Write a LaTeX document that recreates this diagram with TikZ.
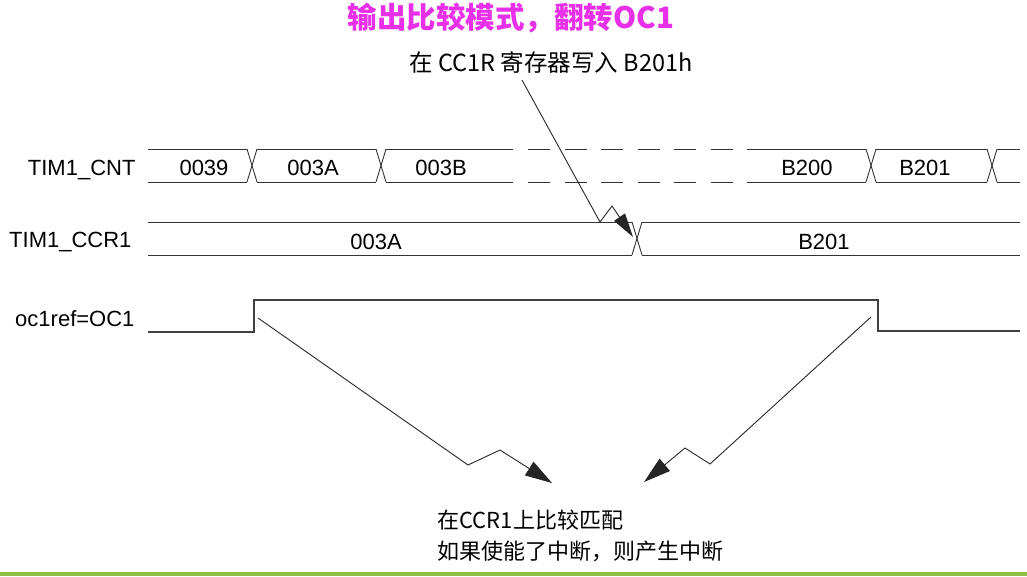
\documentclass[tikz,border=0pt]{standalone}
\usepackage{fontspec}
\setmainfont{Liberation Sans}
\newfontfamily\cjk{Noto Sans CJK SC}
\usetikzlibrary{arrows.meta,positioning}
\definecolor{titlemag}{RGB}{232,48,232}
\definecolor{bargreen}{RGB}{141,190,72}

\tikzstyle{sig} = [anchor=east, font=\fontsize{22}{26}\selectfont]
\tikzstyle{val} = [font=\fontsize{22}{26}\selectfont]
\tikzstyle{bus} = [draw=black!80, line width=0.9pt]
\tikzstyle{level} = [draw=black!75, line width=1.8pt]
\tikzstyle{note} = [font=\cjk\fontsize{22}{26}\selectfont]
\tikzstyle{hit} = [draw=black!85, line width=0.9pt, -{Triangle[length=27pt,width=16pt]}]

\begin{document}
\begin{tikzpicture}[x=1pt, y=-1pt, >=stealth]
  \useasboundingbox (0,0) rectangle (1027,576);
  \def\cntt{149}
  \def\cntb{182}
  \def\ccrt{222}
  \def\ccrb{255}
  \def\hw{5}

  % signal names
  \node[sig] (cnt) at (139,170) {TIM1\_CNT};
  \node[sig] (ccr) at (135,242) {TIM1\_CCR1};
  \node[sig] (oc) at (138,319) {oc1ref=OC1};

  % counter bus
  \foreach \a/\b in {148/247,257/376,386/513,757/866,876/987,997/1020} {
    \draw[bus] (\a,\cntt) -- (\b,\cntt);
    \draw[bus] (\a,\cntb) -- (\b,\cntb);
  }
  \foreach \t in {252,381,871,992} {
    \draw[bus] (\t-\hw,\cntt) -- (\t+\hw,\cntb);
    \draw[bus] (\t-\hw,\cntb) -- (\t+\hw,\cntt);
  }
  \draw[bus, dash pattern=on 22pt off 14.5pt] (528,\cntt) -- (757,\cntt);
  \draw[bus, dash pattern=on 22pt off 14.5pt] (528,\cntb) -- (757,\cntb);

  \node[val] (c39) at (204,168) {0039};
  \node[val] (c3a) at (313,168) {003A};
  \node[val] (c3b) at (441,168) {003B};
  \node[val] (cb200) at (807,168) {B200};
  \node[val] (cb201) at (925,168) {B201};

  % compare register bus
  \foreach \a/\b in {148/632,642/1020} {
    \draw[bus] (\a,\ccrt) -- (\b,\ccrt);
    \draw[bus] (\a,\ccrb) -- (\b,\ccrb);
  }
  \draw[bus] (637-\hw,\ccrt) -- (637+\hw,\ccrb);
  \draw[bus] (637-\hw,\ccrb) -- (637+\hw,\ccrt);

  \node[val] (r3a) at (376,242) {003A};
  \node[val] (rb201) at (824,242) {B201};

  % output level
  \draw[level] (148,332) -- (254,332) -- (254,300) -- (878,300) -- (878,331) -- (1020,331);

  % notes
  \node[font=\cjk\bfseries\fontsize{29.5}{34}\selectfont, text=titlemag] (title) at (511,18) {输出比较模式，翻转OC1};
  \node[note, font=\cjk\fontsize{23.5}{28}\selectfont] (wr) at (551,62) {在 CC1R 寄存器写入 B201h};
  \node[note, anchor=west] (match) at (434,520) {在CCR1上比较匹配};
  \node[note, anchor=west] (irq) at (434,551) {如果使能了中断，则产生中断};

  % bends
  \coordinate (wr_a) at (522,80);
  \coordinate (wr_b) at (600,222);
  \coordinate (wr_c) at (612,206);
  \coordinate (wr_t) at (633,237);
  \coordinate (up_a) at (258,318);
  \coordinate (up_b) at (468,465);
  \coordinate (up_c) at (500,450);
  \coordinate (up_t) at (552,483);
  \coordinate (dn_a) at (871,317);
  \coordinate (dn_b) at (710,464);
  \coordinate (dn_c) at (685,448);
  \coordinate (dn_t) at (644,482);

  \draw[hit, -{Triangle[length=24pt,width=13pt]}] (wr_a) -- (wr_b) -- (wr_c) -- (wr_t);
  \draw[hit] (up_a) -- (up_b) -- (up_c) -- (up_t);
  \draw[hit] (dn_a) -- (dn_b) -- (dn_c) -- (dn_t);

  \fill[bargreen] (0,572) rectangle (1027,576);
\end{tikzpicture}
\end{document}
